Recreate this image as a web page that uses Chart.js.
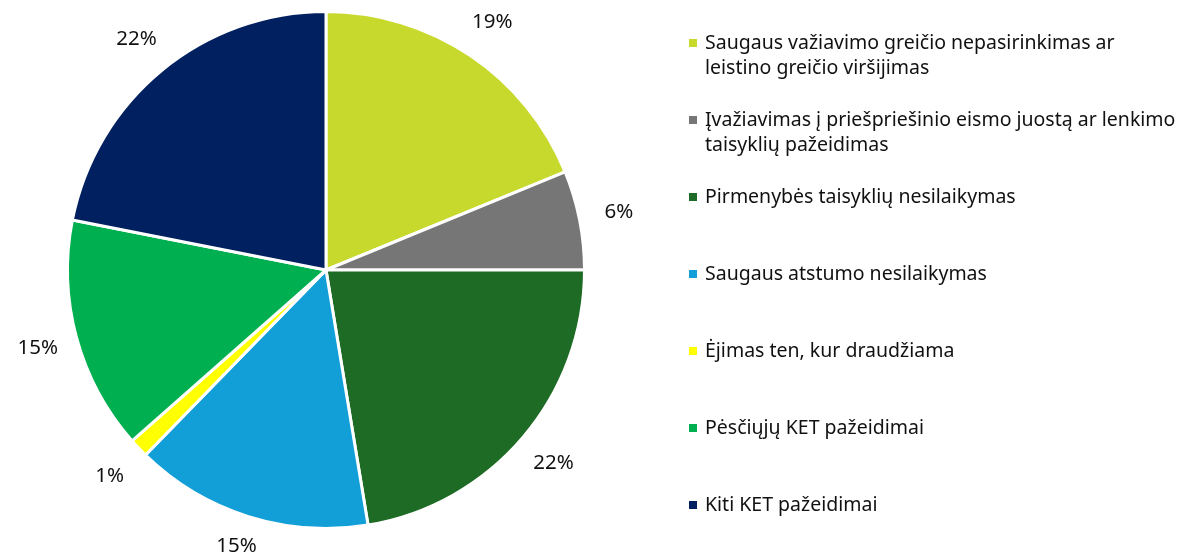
<!DOCTYPE html>
<html>
<head>
<meta charset="utf-8">
<script src="https://cdn.jsdelivr.net/npm/chart.js@4"></script>
<style>
  html, body { margin: 0; padding: 0; background: #fff; }
  #wrap { width: 1178px; height: 557px; }
</style>
</head>
<body>
<div id="wrap"><canvas id="myChart" width="1178" height="557"></canvas></div>
<script>
// multi-line labels kept as arrays, the way the legend wraps them
const labels = [
  ['Saugaus važiavimo greičio nepasirinkimas ar', 'leistino greičio viršijimas'],
  ['Įvažiavimas į priešpriešinio eismo juostą ar lenkimo', 'taisyklių pažeidimas'],
  'Pirmenybės taisyklių nesilaikymas',
  'Saugaus atstumo nesilaikymas',
  'Ėjimas ten, kur draudžiama',
  'Pėsčiųjų KET pažeidimai',
  'Kiti KET pažeidimai'
];
const shares = [18.8, 6.2, 22.4, 14.9, 1.2, 14.6, 21.9];
const colors = ['#C8D92E', '#767676', '#1D6B24', '#129ED7', '#FFFF00', '#00B050', '#002060'];

const LEGEND_FONT = '19.5px "Noto Sans", sans-serif';
const PCT_FONT = '20.5px "Noto Sans", sans-serif';

// percent labels outside the slices
const outsideLabels = {
  id: 'outsideLabels',
  afterDatasetsDraw(chart) {
    const c = chart.ctx;
    const meta = chart.getDatasetMeta(0);
    const total = shares.reduce((a, b) => a + b, 0);
    c.save();
    c.font = PCT_FONT;
    c.fillStyle = '#111';
    c.textAlign = 'center';
    c.textBaseline = 'middle';
    meta.data.forEach((arc, i) => {
      const mid = (arc.startAngle + arc.endAngle) / 2;
      const r = arc.outerRadius + 40;
      const x = arc.x + Math.cos(mid) * r;
      // keep the bottom label inside the canvas
      const y = Math.min(arc.y + Math.sin(mid) * r, chart.height - 11);
      c.fillText(Math.round(shares[i] / total * 100) + '%', x, y);
    });
    c.restore();
  }
};

// legend on the right
const sideLegend = {
  id: 'sideLegend',
  afterDraw(chart) {
    const c = chart.ctx;
    c.save();
    c.font = LEGEND_FONT;
    c.textBaseline = 'middle';
    const x0 = 689, tx = 705;
    let y = 43;
    labels.forEach((lab, i) => {
      const lines = Array.isArray(lab) ? lab : [lab];
      c.fillStyle = colors[i];
      c.fillRect(x0, y - 4, 8, 8);
      c.fillStyle = '#111';
      lines.forEach((ln, k) => c.fillText(ln, tx, y + k * 25));
      y += 77;
    });
    c.restore();
  }
};

const ctx = document.getElementById('myChart').getContext('2d');
const myChart = new Chart(ctx, {
  type: 'pie',
  data: {
    labels: labels,
    datasets: [{
      data: shares,
      backgroundColor: colors,
      borderColor: '#ffffff',
      borderWidth: 3
    }]
  },
  options: {
    responsive: false,
    animation: false,
    layout: { padding: { left: 66, top: 10, bottom: 27, right: 592 } },
    plugins: {
      legend: { display: false },
      tooltip: { enabled: false }
    }
  },
  plugins: [outsideLabels, sideLegend]
});
</script>
</body>
</html>
